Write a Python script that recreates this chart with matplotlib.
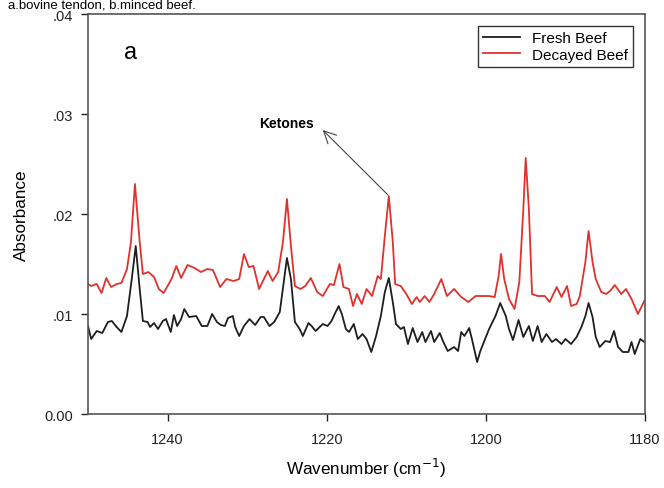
import matplotlib.pyplot as plt

plt.rcParams['font.family'] = ['Liberation Sans', 'DejaVu Sans']

# wavenumber (cm-1) and absorbance
decayed_x = [1250.0, 1249.6, 1248.9, 1248.3, 1247.7, 1247.1, 1246.4, 1245.8, 1245.1, 1244.6,
             1244.1, 1243.5, 1243.1, 1242.4, 1241.7, 1241.1, 1240.5, 1240.0, 1239.5, 1238.9,
             1238.3, 1237.5, 1236.6, 1235.8, 1235.0, 1234.3, 1233.4, 1232.6, 1231.7, 1231.0,
             1230.4, 1229.8, 1229.2, 1228.5, 1227.9, 1227.4, 1226.8, 1226.1, 1225.5, 1225.0,
             1224.5, 1224.0, 1223.3, 1222.7, 1222.0, 1221.2, 1220.5, 1219.6, 1219.1, 1218.4,
             1217.9, 1217.2, 1216.7, 1216.2, 1215.6, 1215.0, 1214.3, 1213.6, 1213.2, 1212.7,
             1212.2, 1211.7, 1211.4, 1210.7, 1210.0, 1209.3, 1208.7, 1208.3, 1207.7, 1207.1,
             1206.5, 1205.6, 1204.9, 1204.0, 1203.1, 1202.2, 1201.3, 1200.4, 1199.6, 1198.9,
             1198.4, 1198.1, 1197.7, 1197.1, 1196.4, 1195.8, 1195.3, 1195.0, 1194.6, 1194.2,
             1193.5, 1192.6, 1192.0, 1191.1, 1190.5, 1189.8, 1189.3, 1188.6, 1188.2, 1187.5,
             1187.1, 1186.6, 1186.2, 1185.5, 1184.9, 1184.4, 1183.8, 1183.0, 1182.4, 1181.7,
             1180.9, 1180.1]
decayed_y = [0.0130, 0.0128, 0.0130, 0.0121, 0.0136, 0.0127, 0.0130, 0.0131, 0.0145, 0.0172,
             0.0230, 0.0172, 0.0140, 0.0142, 0.0137, 0.0125, 0.0121, 0.0128, 0.0135, 0.0148,
             0.0136, 0.0149, 0.0146, 0.0142, 0.0145, 0.0144, 0.0127, 0.0135, 0.0133, 0.0135,
             0.0160, 0.0147, 0.0148, 0.0125, 0.0135, 0.0143, 0.0133, 0.0142, 0.0172, 0.0215,
             0.0168, 0.0128, 0.0125, 0.0128, 0.0136, 0.0122, 0.0118, 0.0130, 0.0129, 0.0150,
             0.0127, 0.0125, 0.0108, 0.0120, 0.0110, 0.0125, 0.0118, 0.0138, 0.0135, 0.0178,
             0.0218, 0.0172, 0.0130, 0.0128, 0.0120, 0.0110, 0.0117, 0.0112, 0.0118, 0.0112,
             0.0120, 0.0135, 0.0118, 0.0125, 0.0117, 0.0112, 0.0118, 0.0118, 0.0118, 0.0117,
             0.0138, 0.0160, 0.0135, 0.0115, 0.0105, 0.0132, 0.0205, 0.0256, 0.0205, 0.0120,
             0.0118, 0.0118, 0.0112, 0.0127, 0.0117, 0.0128, 0.0108, 0.0110, 0.0118, 0.0152,
             0.0183, 0.0152, 0.0135, 0.0122, 0.0120, 0.0123, 0.0129, 0.0120, 0.0125, 0.0115,
             0.0100, 0.0113]

fresh_x = [1250.0, 1249.6, 1248.9, 1248.2, 1247.5, 1247.0, 1246.4, 1245.8, 1245.1, 1244.5,
           1244.0, 1243.5, 1243.1, 1242.5, 1242.2, 1241.7, 1241.2, 1240.6, 1240.2, 1239.6,
           1239.2, 1238.8, 1238.3, 1237.9, 1237.3, 1236.4, 1235.7, 1235.0, 1234.4, 1233.8,
           1233.3, 1232.8, 1232.4, 1231.8, 1231.5, 1231.0, 1230.4, 1229.7, 1229.0, 1228.3,
           1227.9, 1227.2, 1226.6, 1225.9, 1225.4, 1225.0, 1224.5, 1224.0, 1223.4, 1223.0,
           1222.3, 1221.9, 1221.4, 1220.5, 1219.9, 1219.4, 1219.0, 1218.5, 1218.1, 1217.6,
           1217.2, 1216.6, 1216.1, 1215.5, 1215.0, 1214.4, 1213.8, 1213.2, 1212.7, 1212.2,
           1211.7, 1211.3, 1210.7, 1210.3, 1209.8, 1209.2, 1208.6, 1208.0, 1207.6, 1206.9,
           1206.5, 1205.8, 1205.4, 1204.8, 1204.0, 1203.5, 1203.1, 1202.7, 1202.1, 1201.7,
           1201.1, 1200.7, 1200.1, 1199.6, 1198.8, 1198.2, 1197.5, 1197.1, 1196.6, 1195.9,
           1195.3, 1194.6, 1194.1, 1193.5, 1193.0, 1192.4, 1191.7, 1191.2, 1190.5, 1190.0,
           1189.3, 1188.6, 1188.0, 1187.5, 1187.1, 1186.6, 1186.2, 1185.7, 1185.0, 1184.4,
           1183.9, 1183.4, 1182.8, 1182.1, 1181.7, 1181.3, 1180.6, 1180.1]
fresh_y = [0.0088, 0.0075, 0.0083, 0.0081, 0.0092, 0.0093, 0.0087, 0.0082, 0.0098, 0.0135,
           0.0168, 0.0125, 0.0093, 0.0092, 0.0087, 0.0091, 0.0085, 0.0093, 0.0095, 0.0082,
           0.0099, 0.0088, 0.0095, 0.0105, 0.0097, 0.0098, 0.0088, 0.0088, 0.0100, 0.0092,
           0.0089, 0.0088, 0.0096, 0.0098, 0.0087, 0.0078, 0.0088, 0.0095, 0.0089, 0.0097,
           0.0097, 0.0088, 0.0092, 0.0102, 0.0132, 0.0156, 0.0135, 0.0092, 0.0085, 0.0078,
           0.0091, 0.0088, 0.0083, 0.0090, 0.0088, 0.0093, 0.0100, 0.0108, 0.0100, 0.0085,
           0.0082, 0.0090, 0.0075, 0.0080, 0.0075, 0.0062, 0.0078, 0.0098, 0.0122, 0.0136,
           0.0112, 0.0090, 0.0085, 0.0087, 0.0070, 0.0086, 0.0072, 0.0082, 0.0072, 0.0083,
           0.0072, 0.0081, 0.0073, 0.0063, 0.0067, 0.0063, 0.0082, 0.0078, 0.0086, 0.0073,
           0.0052, 0.0063, 0.0075, 0.0085, 0.0098, 0.0111, 0.0098, 0.0085, 0.0074, 0.0094,
           0.0077, 0.0088, 0.0073, 0.0088, 0.0072, 0.0080, 0.0072, 0.0075, 0.0070, 0.0075,
           0.0070, 0.0077, 0.0087, 0.0098, 0.0111, 0.0097, 0.0077, 0.0067, 0.0073, 0.0072,
           0.0083, 0.0067, 0.0062, 0.0062, 0.0072, 0.0060, 0.0075, 0.0072]

y_ticks = [0.0, 0.01, 0.02, 0.03, 0.04]
y_tick_labels = ['0.00', '.01', '.02', '.03', '.04']
x_ticks = [1240, 1220, 1200, 1180]

fig = plt.figure(figsize=(6.64, 4.89), dpi=100)
ax = fig.add_axes([0.1325, 0.1513, 0.839, 0.818])

ax.plot(fresh_x, fresh_y, color='#1e1e1e', linewidth=1.3, label='Fresh Beef')
ax.plot(decayed_x, decayed_y, color='#e0312c', linewidth=1.3, label='Decayed Beef')

ax.set_xlim(1250, 1180)
ax.set_ylim(0, 0.04)
ax.set_xticks(x_ticks)
ax.set_yticks(y_ticks)
ax.set_yticklabels(y_tick_labels)
ax.tick_params(direction='out', length=5, width=1, labelsize=10.5, colors='#222222')
ax.tick_params(axis='x', pad=8)
ax.tick_params(axis='y', pad=6)
for sp in ax.spines.values():
    sp.set_color('#555555')
    sp.set_linewidth(1.2)

ax.set_xlabel('Wavenumber (cm$^{-1}$)', fontsize=12.3, labelpad=7)
ax.set_ylabel('Absorbance', fontsize=12.3, labelpad=11)

ax.text(1244.7, 0.0362, 'a', fontsize=17, ha='center', va='center')

ax.annotate('', xy=(1220.5, 0.0284), xytext=(1212.3, 0.0219),
            arrowprops=dict(arrowstyle='->', color='#444444', lw=0.8,
                            mutation_scale=22, shrinkA=0, shrinkB=0))
ax.text(1225.1, 0.0291, 'Ketones', fontsize=10, fontweight='bold',
        ha='center', va='center')

leg = ax.legend(loc='upper right', bbox_to_anchor=(0.9785, 0.97), borderaxespad=0,
                fontsize=11, fancybox=False, framealpha=1, edgecolor='#333333',
                handlelength=2.4, borderpad=0.35, labelspacing=0.15, handletextpad=0.8)
leg.get_frame().set_linewidth(1.0)

fig.text(0.012, 1.0, 'a.bovine tendon, b.minced beef.', fontsize=9.5,
         ha='left', va='top')

fig.savefig('out.png', dpi=100)
